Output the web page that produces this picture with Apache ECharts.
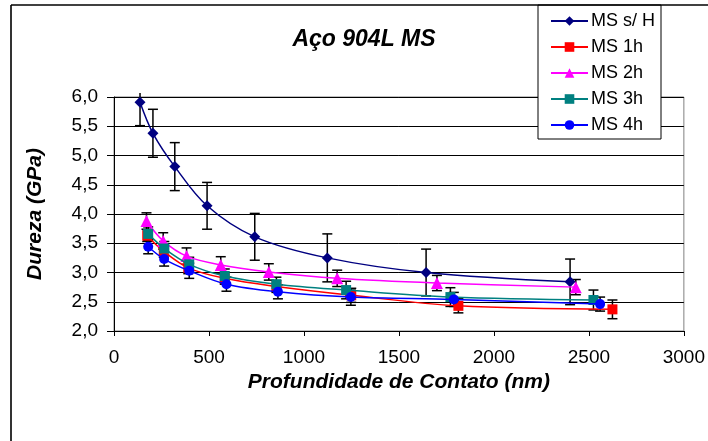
<!DOCTYPE html>
<html>
<head>
<meta charset="utf-8">
<script src="https://cdn.jsdelivr.net/npm/echarts@6/dist/echarts.min.js"></script>
<style>html,body{margin:0;padding:0;background:#fff}#c{width:708px;height:441px}</style>
</head>
<body>
<div id="c"></div>
<script>
var seriesNames = ['MS s/ H', 'MS 1h', 'MS 2h', 'MS 3h', 'MS 4h'];
var xTicks = [0, 500, 1000, 1500, 2000, 2500, 3000];
var yTicks = ['2,0', '2,5', '3,0', '3,5', '4,0', '4,5', '5,0', '5,5', '6,0'];

var msSH_x = [137, 205, 320, 490, 741, 1123, 1643, 2401];
var msSH_y = [5.91, 5.38, 4.81, 4.14, 3.61, 3.25, 3.00, 2.84];
var msSH_e = [0.40, 0.41, 0.41, 0.40, 0.40, 0.41, 0.40, 0.39];

var ms1_x = [175, 262, 391, 583, 855, 1249, 1813, 2624];
var ms1_y = [3.63, 3.36, 3.08, 2.90, 2.76, 2.61, 2.43, 2.37];
var ms1_e = [0.10, 0.10, 0.10, 0.10, 0.10, 0.12, 0.12, 0.16];

var ms2_x = [171, 259, 382, 562, 815, 1175, 1700, 2431];
var ms2_y = [3.88, 3.54, 3.28, 3.13, 3.01, 2.90, 2.82, 2.75];
var ms2_e = [0.14, 0.14, 0.14, 0.14, 0.14, 0.14, 0.13, 0.13];

var ms3_x = [180, 265, 396, 583, 855, 1222, 1771, 2524];
var ms3_y = [3.66, 3.41, 3.14, 2.94, 2.80, 2.70, 2.58, 2.53];
var ms3_e = [0.12, 0.12, 0.12, 0.12, 0.12, 0.15, 0.16, 0.17];

var ms4_x = [180, 264, 396, 592, 863, 1247, 1789, 2559];
var ms4_y = [3.44, 3.23, 3.03, 2.80, 2.67, 2.58, 2.54, 2.46];
var ms4_e = [0.12, 0.12, 0.13, 0.12, 0.12, 0.14, 0.12, 0.12];

var colors = ['#000080', '#FF0000', '#FF00FF', '#008080', '#0000FF'];
var symbols = ['diamond', 'rect', 'triangle', 'rect', 'circle'];
var symbolSizes = [11, 10, 12, 10, 10];
var allX = [msSH_x, ms1_x, ms2_x, ms3_x, ms4_x];
var allY = [msSH_y, ms1_y, ms2_y, ms3_y, ms4_y];
var allE = [msSH_e, ms1_e, ms2_e, ms3_e, ms4_e];
var errClipTop = 6.07;

function zip(xs, ys) { return xs.map(function (x, i) { return [x, ys[i]]; }); }
function errData(xs, ys, es) { return xs.map(function (x, i) { return [x, ys[i] - es[i], ys[i] + es[i]]; }); }

var series = [];
for (var s = 0; s < 5; s++) {
  series.push({
    type: 'custom',
    name: seriesNames[s] + ' err',
    silent: true,
    z: 2,
    clip: false,
    data: errData(allX[s], allY[s], allE[s]),
    renderItem: function (params, api) {
      var x = api.value(0);
      var hiV = api.value(2);
      var clipped = hiV > errClipTop;
      var lo = api.coord([x, api.value(1)]);
      var hi = api.coord([x, clipped ? errClipTop : hiV]);
      var w = 5;
      var st = { stroke: '#000', lineWidth: 1.5 };
      var ch = [
        { type: 'line', shape: { x1: lo[0], y1: lo[1], x2: hi[0], y2: hi[1] }, style: st },
        { type: 'line', shape: { x1: lo[0] - w, y1: lo[1], x2: lo[0] + w, y2: lo[1] }, style: st }
      ];
      if (!clipped) ch.push({ type: 'line', shape: { x1: hi[0] - w, y1: hi[1], x2: hi[0] + w, y2: hi[1] }, style: st });
      return { type: 'group', children: ch };
    }
  });
}
for (var s2 = 0; s2 < 5; s2++) {
  series.push({
    type: 'line',
    name: seriesNames[s2],
    data: zip(allX[s2], allY[s2]),
    smooth: 0.35,
    symbol: symbols[s2],
    symbolSize: symbolSizes[s2],
    showAllSymbol: true,
    z: 3 + s2,
    lineStyle: { color: colors[s2], width: 1.5 },
    itemStyle: { color: colors[s2] }
  });
}

var chart = echarts.init(document.getElementById('c'));
chart.setOption({
  animation: false,
  backgroundColor: '#fff',
  title: {
    text: 'Aço 904L MS',
    left: 359, top: 23, textAlign: 'center',
    textStyle: { fontFamily: 'Liberation Sans', fontSize: 23, fontWeight: 'bold', fontStyle: 'italic', color: '#000' }
  },
  legend: {
    data: seriesNames,
    orient: 'vertical',
    left: 538, top: 5,
    width: 123,
    padding: [7, 6, 5, 12],
    itemGap: 8,
    itemWidth: 37,
    itemHeight: 12,
    backgroundColor: '#fff',
    borderColor: '#000',
    borderWidth: 1,
    textStyle: { fontFamily: 'Liberation Sans', fontSize: 18, color: '#000', lineHeight: 18, padding: [0, 0, 0, -2] }
  },
  grid: { left: 114, right: 23, top: 97, bottom: 110, show: true, borderColor: '#808080', borderWidth: 1, backgroundColor: '#fff' },
  xAxis: {
    type: 'value', min: xTicks[0], max: xTicks[xTicks.length - 1], interval: 500,
    name: 'Profundidade de Contato (nm)', nameLocation: 'middle', nameGap: 36,
    nameTextStyle: { fontFamily: 'Liberation Sans', fontSize: 21, fontWeight: 'bold', fontStyle: 'italic', color: '#000' },
    axisLine: { lineStyle: { color: '#000', width: 1 } },
    axisTick: { show: true, inside: false, length: 5, lineStyle: { color: '#000' } },
    axisLabel: { fontFamily: 'Liberation Sans', fontSize: 19, color: '#000', margin: 17,
      formatter: function (v) { return String(v); } },
    splitLine: { show: false }
  },
  yAxis: {
    type: 'value', min: 2, max: 6, interval: 0.5,
    name: 'Dureza (GPa)', nameLocation: 'middle', nameGap: 68, nameRotate: 90,
    nameTextStyle: { fontFamily: 'Liberation Sans', fontSize: 21, fontWeight: 'bold', fontStyle: 'italic', color: '#000' },
    axisLine: { show: true, lineStyle: { color: '#000', width: 1 } },
    axisTick: { show: true, inside: false, length: 7, lineStyle: { color: '#000' } },
    axisLabel: {
      fontFamily: 'Liberation Sans', fontSize: 19, color: '#000', margin: 16,
      formatter: function (v) { return yTicks[Math.round((v - 2) / 0.5)]; }
    },
    splitLine: { show: true, lineStyle: { color: '#000', width: 1 } }
  },
  graphic: [
    { type: 'line', shape: { x1: 11, y1: 5, x2: 11, y2: 441 }, style: { stroke: '#333', lineWidth: 2 }, z: 100 },
    { type: 'line', shape: { x1: 11, y1: 5, x2: 708, y2: 5 }, style: { stroke: '#000', lineWidth: 1.5 }, z: 100 }
  ],
  series: series
});
</script>
</body>
</html>
